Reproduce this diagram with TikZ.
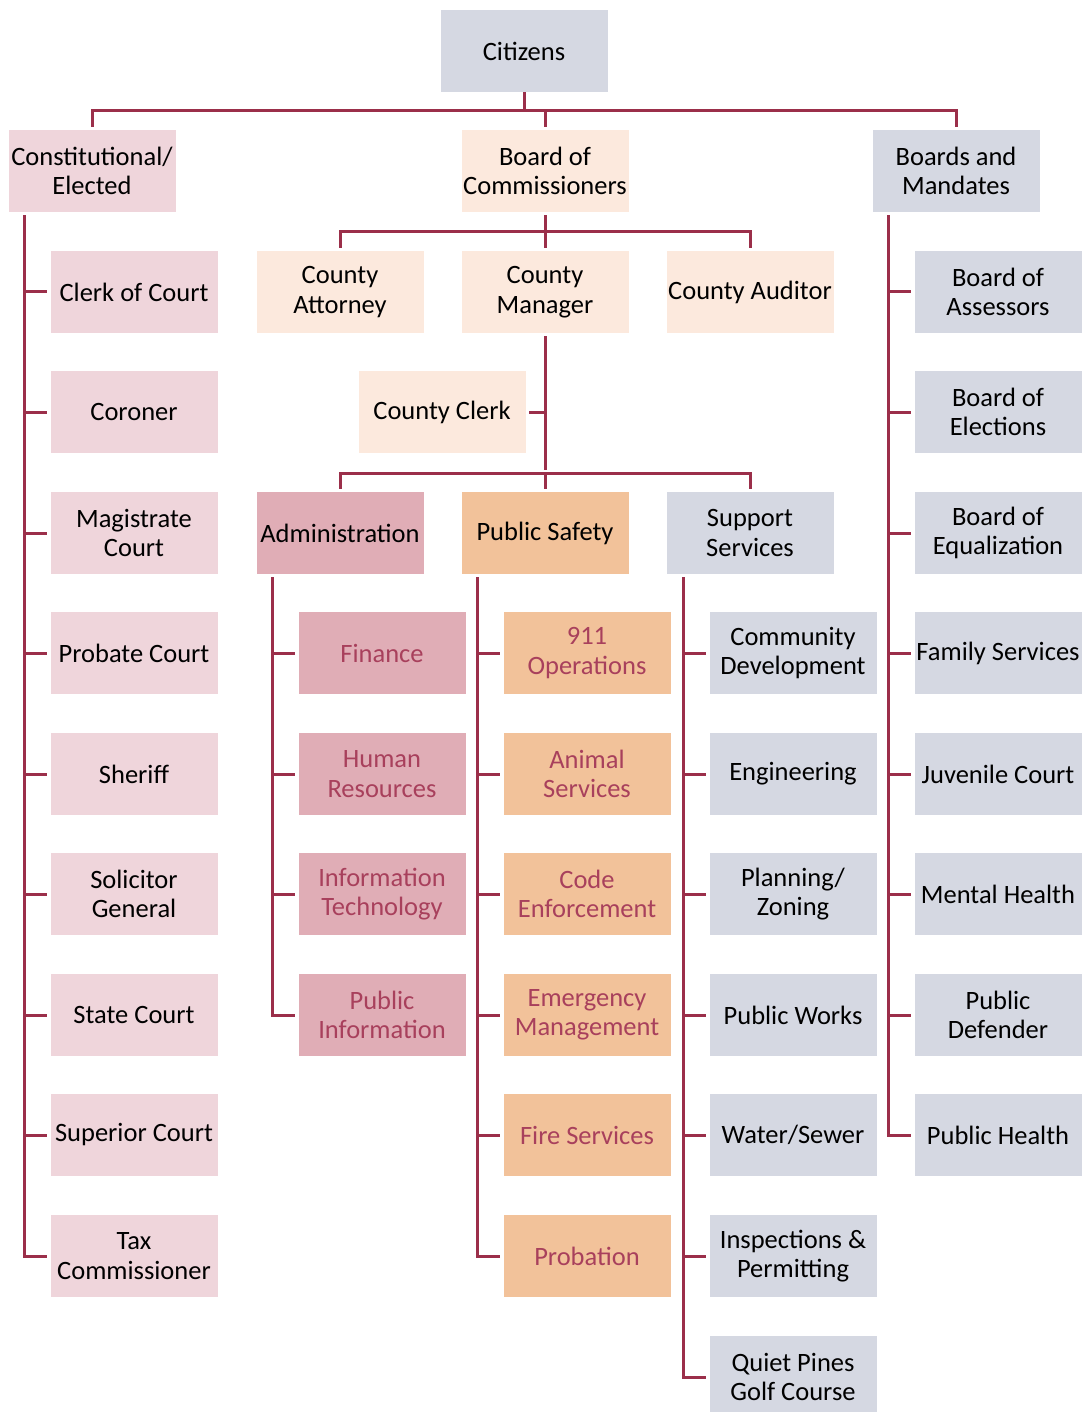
\documentclass[tikz,border=0pt]{standalone}
\usepackage{fontspec}
\setmainfont{Carlito}
\definecolor{cpink}{HTML}{EFD5DB}
\definecolor{cpeach}{HTML}{FCE9DD}
\definecolor{cgrey}{HTML}{D5D8E2}
\definecolor{cadmin}{HTML}{E0ADB6}
\definecolor{csafety}{HTML}{F2C29A}
\definecolor{cline}{HTML}{9B2F4A}
\definecolor{ctxt}{HTML}{A8405C}
\tikzset{
  box/.style={minimum width=167pt,minimum height=82pt,inner sep=0pt,align=center,
    font=\fontsize{26.5}{29.5}\selectfont},
  pinkbox/.style={box,fill=cpink},
  peachbox/.style={box,fill=cpeach},
  greybox/.style={box,fill=cgrey},
  adminbox/.style={box,fill=cadmin},
  safetybox/.style={box,fill=csafety},
  subtxt/.style={text=ctxt},
  conn/.style={draw=cline,line width=3pt},
  stub/.style={conn,shorten >=3pt},
}
\begin{document}
\begin{tikzpicture}[x=1pt,y=-1pt]
\clip (0,0) rectangle (1085,1412);
\useasboundingbox (0,0) rectangle (1085,1412);
% top
\node[greybox] (cit) at (524,51) {Citizens};
\node[pinkbox] (const) at (92,171) {Constitutional/\\Elected};
\node[peachbox] (boc) at (545,171) {Board of\\Commissioners};
\node[greybox] (bam) at (956,171) {Boards and\\Mandates};
\node[peachbox] (att) at (340,292) {County\\Attorney};
\node[peachbox] (mgr) at (545,292) {County\\Manager};
\node[peachbox] (aud) at (750,292) {County Auditor};
\node[peachbox] (clk) at (442,412) {County Clerk};
\node[adminbox] (adm) at (340,533) {Administration};
\node[safetybox] (saf) at (545,533) {Public Safety};
\node[greybox] (sup) at (750,533) {Support\\Services};
% left column
\node[pinkbox] (l1) at (134,292) {Clerk of Court};
\node[pinkbox] (l2) at (134,412) {Coroner};
\node[pinkbox] (l3) at (134,533) {Magistrate\\Court};
\node[pinkbox] (l4) at (134,653) {Probate Court};
\node[pinkbox] (l5) at (134,774) {Sheriff};
\node[pinkbox] (l6) at (134,894) {Solicitor\\General};
\node[pinkbox] (l7) at (134,1015) {State Court};
\node[pinkbox] (l8) at (134,1135) {Superior Court};
\node[pinkbox] (l9) at (134,1256) {Tax\\Commissioner};
% admin column
\node[adminbox,subtxt] (a1) at (382,653) {Finance};
\node[adminbox,subtxt] (a2) at (382,774) {Human\\Resources};
\node[adminbox,subtxt] (a3) at (382,894) {Information\\Technology};
\node[adminbox,subtxt] (a4) at (382,1015) {Public\\Information};
% safety column
\node[safetybox,subtxt] (s1) at (587,653) {911\\Operations};
\node[safetybox,subtxt] (s2) at (587,774) {Animal\\Services};
\node[safetybox,subtxt] (s3) at (587,894) {Code\\Enforcement};
\node[safetybox,subtxt] (s4) at (587,1015) {Emergency\\Management};
\node[safetybox,subtxt] (s5) at (587,1135) {Fire Services};
\node[safetybox,subtxt] (s6) at (587,1256) {Probation};
% support column
\node[greybox] (u1) at (793,653) {Community\\Development};
\node[greybox] (u2) at (793,774) {Engineering};
\node[greybox] (u3) at (793,894) {Planning/\\Zoning};
\node[greybox] (u4) at (793,1015) {Public Works};
\node[greybox] (u5) at (793,1135) {Water/Sewer};
\node[greybox] (u6) at (793,1256) {Inspections \&\\Permitting};
\node[greybox] (u7) at (793,1377) {Quiet Pines\\Golf Course};
% right column
\node[greybox] (r1) at (998,292) {Board of\\Assessors};
\node[greybox] (r2) at (998,412) {Board of\\Elections};
\node[greybox] (r3) at (998,533) {Board of\\Equalization};
\node[greybox] (r4) at (998,653) {Family Services};
\node[greybox] (r5) at (998,774) {Juvenile Court};
\node[greybox] (r6) at (998,894) {Mental Health};
\node[greybox] (r7) at (998,1015) {Public\\Defender};
\node[greybox] (r8) at (998,1135) {Public Health};
% bus coordinates
\coordinate (b1) at (0,111);
\coordinate (b2) at (0,232);
\coordinate (b3) at (0,473);
\coordinate (tL) at (24,0);
\coordinate (tA) at (272,0);
\coordinate (tS) at (477,0);
\coordinate (tU) at (683,0);
\coordinate (tR) at (888,0);
% top bus
\draw[conn] (cit.south) -- (cit.south |- b1);
\draw[conn,line cap=rect] (const.north |- b1) -- (bam.north |- b1);
\draw[conn,shorten >=3pt] (const.north |- b1) -- (const.north);
\draw[conn,shorten >=3pt] (bam.north |- b1) -- (bam.north);
\draw[conn,shorten >=3pt] (boc.north |- b1) -- (boc.north);
% board bus
\draw[conn,shorten <=3pt] (boc.south) -- (boc.south |- b2);
\draw[conn,line cap=rect] (att.north |- b2) -- (aud.north |- b2);
\draw[conn,shorten >=3pt] (att.north |- b2) -- (att.north);
\draw[conn,shorten >=3pt] (aud.north |- b2) -- (aud.north);
\draw[conn,shorten >=3pt] (mgr.north |- b2) -- (mgr.north);
% manager trunk
\draw[conn,shorten <=3pt] (mgr.south) -- ([yshift=3pt]mgr.south |- b3);
\draw[stub] (mgr.south |- clk.east) -- (clk.east);
\draw[conn,line cap=rect] (adm.north |- b3) -- (sup.north |- b3);
\draw[conn,shorten >=3pt] (adm.north |- b3) -- (adm.north);
\draw[conn,shorten >=3pt] (sup.north |- b3) -- (sup.north);
\draw[conn,shorten >=3pt] (saf.north |- b3) -- (saf.north);
% trunks
\draw[conn,shorten <=3pt] (tL |- const.south) -- (tL |- l9.west) -- ([xshift=-3pt]l9.west);
\foreach \n in {l1,l2,l3,l4,l5,l6,l7,l8} \draw[stub] (tL |- \n.west) -- (\n.west);
\draw[conn,shorten <=3pt] (tA |- adm.south) -- (tA |- a4.west) -- ([xshift=-3pt]a4.west);
\foreach \n in {a1,a2,a3} \draw[stub] (tA |- \n.west) -- (\n.west);
\draw[conn,shorten <=3pt] (tS |- saf.south) -- (tS |- s6.west) -- ([xshift=-3pt]s6.west);
\foreach \n in {s1,s2,s3,s4,s5} \draw[stub] (tS |- \n.west) -- (\n.west);
\draw[conn,shorten <=3pt] (tU |- sup.south) -- (tU |- u7.west) -- ([xshift=-3pt]u7.west);
\foreach \n in {u1,u2,u3,u4,u5,u6} \draw[stub] (tU |- \n.west) -- (\n.west);
\draw[conn,shorten <=3pt] (tR |- bam.south) -- (tR |- r8.west) -- ([xshift=-3pt]r8.west);
\foreach \n in {r1,r2,r3,r4,r5,r6,r7} \draw[stub] (tR |- \n.west) -- (\n.west);
\end{tikzpicture}
\end{document}
